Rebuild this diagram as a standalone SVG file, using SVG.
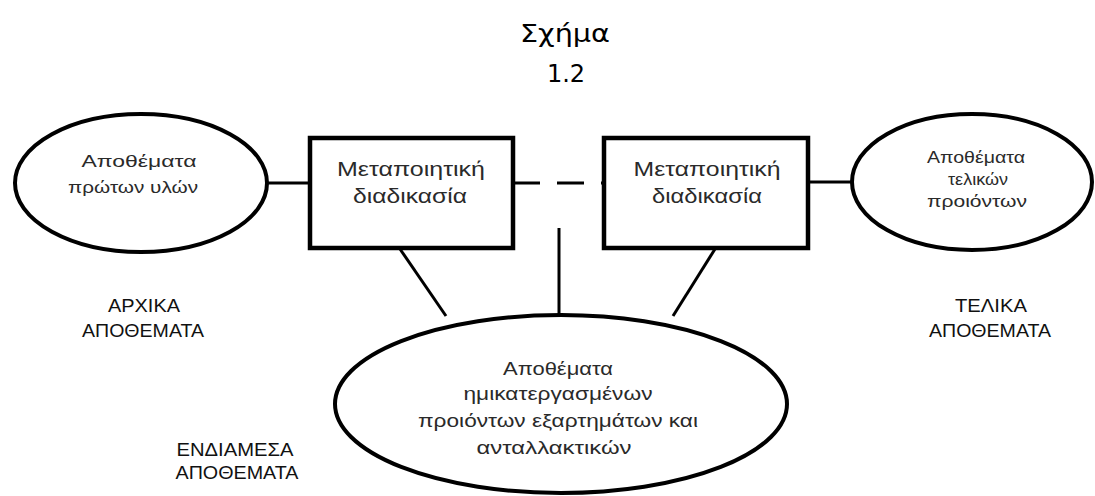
<svg xmlns="http://www.w3.org/2000/svg" width="1095" height="496" viewBox="0 0 1095 496">
<style>
.shape{fill:#fff;stroke:#000;stroke-width:4}
.box{fill:#fff;stroke:#000;stroke-width:4.5}
.con{stroke:#000;stroke-width:3;fill:none}
.t{font-family:"Liberation Sans",Arial,sans-serif;fill:#2a2a2a;text-anchor:middle}
.cap{font-family:"Liberation Sans",Arial,sans-serif;fill:#111;text-anchor:middle;font-size:19px}
.title{font-family:"DejaVu Sans",Tahoma,sans-serif;fill:#000;text-anchor:middle;font-size:24px}
</style>
<rect width="1095" height="496" fill="#fff"/>
<g id="title">
<text class="title" x="565" y="42" textLength="90" lengthAdjust="spacingAndGlyphs">Σχήμα</text>
<text class="title" x="566" y="82">1.2</text>
</g>
<g id="connectors">
<line class="con" x1="267" y1="183" x2="310" y2="183"/>
<line class="con" x1="513" y1="183" x2="604" y2="183" stroke-dasharray="27 17"/>
<line class="con" x1="808" y1="182" x2="852" y2="182"/>
<line class="con" x1="400" y1="249" x2="446" y2="316"/>
<line class="con" x1="559" y1="228" x2="559" y2="316"/>
<line class="con" x1="715" y1="249" x2="673" y2="316"/>
</g>
<g id="raw-stock">
<ellipse class="shape" cx="141" cy="183" rx="126" ry="69"/>
<text class="t" font-size="16" x="139" y="167" textLength="115" lengthAdjust="spacingAndGlyphs">Αποθέματα</text>
<text class="t" font-size="16" x="133" y="193" textLength="130" lengthAdjust="spacingAndGlyphs">πρώτων υλών</text>
</g>
<g id="process-1">
<rect class="box" x="310" y="138" width="203" height="110"/>
<text class="t" font-size="21" x="411" y="176" textLength="148" lengthAdjust="spacingAndGlyphs">Μεταποιητική</text>
<text class="t" font-size="21" x="410" y="203" textLength="114" lengthAdjust="spacingAndGlyphs">διαδικασία</text>
</g>
<g id="process-2">
<rect class="box" x="604" y="138" width="204" height="110"/>
<text class="t" font-size="21" x="707" y="176" textLength="147" lengthAdjust="spacingAndGlyphs">Μεταποιητική</text>
<text class="t" font-size="21" x="707" y="203" textLength="110" lengthAdjust="spacingAndGlyphs">διαδικασία</text>
</g>
<g id="final-stock">
<ellipse class="shape" cx="972" cy="182" rx="120" ry="68"/>
<text class="t" font-size="16" x="976" y="163" textLength="98" lengthAdjust="spacingAndGlyphs">Αποθέματα</text>
<text class="t" font-size="16" x="978" y="185" textLength="60" lengthAdjust="spacingAndGlyphs">τελικών</text>
<text class="t" font-size="16" x="977" y="207" textLength="100" lengthAdjust="spacingAndGlyphs">προιόντων</text>
</g>
<g id="wip-stock">
<ellipse class="shape" cx="561" cy="404" rx="226" ry="89"/>
<text class="t" font-size="18" x="558" y="375" textLength="110" lengthAdjust="spacingAndGlyphs">Αποθέματα</text>
<text class="t" font-size="18" x="558" y="400" textLength="189" lengthAdjust="spacingAndGlyphs">ημικατεργασμένων</text>
<text class="t" font-size="18" x="558" y="427" textLength="280" lengthAdjust="spacingAndGlyphs">προιόντων εξαρτημάτων και</text>
<text class="t" font-size="18" x="554" y="454" textLength="155" lengthAdjust="spacingAndGlyphs">ανταλλακτικών</text>
</g>
<g id="label-initial">
<text class="cap" x="144" y="312" textLength="72" lengthAdjust="spacingAndGlyphs">ΑΡΧΙΚΑ</text>
<text class="cap" x="143" y="337" textLength="122" lengthAdjust="spacingAndGlyphs">ΑΠΟΘΕΜΑΤΑ</text>
</g>
<g id="label-final">
<text class="cap" x="991" y="312" textLength="72" lengthAdjust="spacingAndGlyphs">ΤΕΛΙΚΑ</text>
<text class="cap" x="990" y="337" textLength="122" lengthAdjust="spacingAndGlyphs">ΑΠΟΘΕΜΑΤΑ</text>
</g>
<g id="label-intermediate">
<text class="cap" x="235" y="456" textLength="117" lengthAdjust="spacingAndGlyphs">ΕΝΔΙΑΜΕΣΑ</text>
<text class="cap" x="237" y="479" textLength="123" lengthAdjust="spacingAndGlyphs">ΑΠΟΘΕΜΑΤΑ</text>
</g>
</svg>
